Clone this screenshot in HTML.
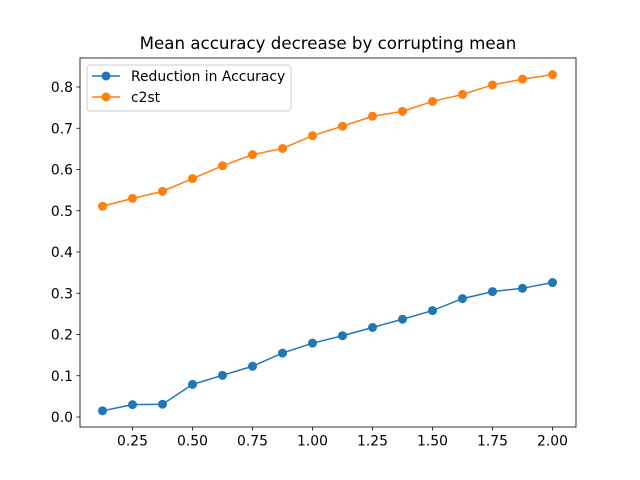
<!DOCTYPE html>
<html><head><meta charset="utf-8"><style>
body{margin:0;background:#fff;}
svg{display:block;font-family:"DejaVu Sans","Liberation Sans",sans-serif;}
</style></head><body>
<svg id="chart" width="640" height="480">
<rect width="640" height="480" fill="#fff"/>
<text x="328" y="49" text-anchor="middle" font-size="16.67">Mean accuracy decrease by corrupting mean</text>
<g id="axes"></g>
<g id="series"></g>
<rect x="80" y="58" width="496" height="369" fill="none" stroke="#000" stroke-width="0.8"/>
<g>
<rect x="87" y="65" width="204" height="46" rx="3" fill="#fff" fill-opacity="0.8" stroke="#ccc"/>
<g>
<line x1="92" y1="76" x2="120" y2="76" stroke="#1f77b4" stroke-width="1.5"/><circle cx="106" cy="76" r="4.5" fill="#1f77b4"/>
<text x="131" y="81" font-size="13.89">Reduction in Accuracy</text></g>
<g>
<line x1="92" y1="97" x2="120" y2="97" stroke="#ff7f0e" stroke-width="1.5"/><circle cx="106" cy="97" r="4.5" fill="#ff7f0e"/>
<text x="131" y="102" font-size="13.89">c2st</text></g>
</g>
</svg>
<script>
const xValues=[0.125,0.25,0.375,0.5,0.625,0.75,0.875,1.0,1.125,1.25,1.375,1.5,1.625,1.75,1.875,2.0];
const reductionValues=[0.015,0.030,0.031,0.079,0.101,0.123,0.155,0.179,0.197,0.217,0.237,0.258,0.287,0.304,0.312,0.326];
const c2stValues=[0.511,0.530,0.547,0.578,0.609,0.636,0.651,0.682,0.705,0.729,0.741,0.765,0.782,0.805,0.819,0.830];
const xTicks=[0.25,0.5,0.75,1.0,1.25,1.5,1.75,2.0];
const xTickLabels=["0.25","0.50","0.75","1.00","1.25","1.50","1.75","2.00"];
const yTicks=[0,0.1,0.2,0.3,0.4,0.5,0.6,0.7,0.8];
const yTickLabels=["0.0","0.1","0.2","0.3","0.4","0.5","0.6","0.7","0.8"];
const NS="http://www.w3.org/2000/svg";
function sx(v){return 80+(v-0.03125)*240;}
function sy(v){return 417-v*412.5;}
function mk(t,a,p){const e=document.createElementNS(NS,t);for(const k in a)e.setAttribute(k,a[k]);p.appendChild(e);return e;}
const ax=document.getElementById('axes');
xTicks.forEach((v,i)=>{
 const l=mk('line',{x1:sx(v),x2:sx(v),y1:427,y2:430.5,stroke:'#000','stroke-width':0.8},ax);
 
 
 const t=mk('text',{x:sx(v),y:445.5,'text-anchor':'middle','font-size':13.89},ax);
 t.textContent=xTickLabels[i];
 
 
});
yTicks.forEach((v,i)=>{
 const l=mk('line',{x1:76.5,x2:80,y1:sy(v),y2:sy(v),stroke:'#000','stroke-width':0.8},ax);
 
 
 const t=mk('text',{x:73,y:sy(v)+5,'text-anchor':'end','font-size':13.89},ax);
 t.textContent=yTickLabels[i];
 
 
});
const sg=document.getElementById('series');
function drawSeries(vals,color,name){
 const g=mk('g',{},sg);
 
 
 const pl=mk('polyline',{points:vals.map((v,i)=>sx(xValues[i])+','+sy(v)).join(' '),fill:'none',stroke:color,'stroke-width':1.5},g);
 
 
 vals.forEach((v,i)=>{
  const c=mk('circle',{cx:sx(xValues[i]),cy:sy(v),r:4.5,fill:color},g);
  
  
 });
}
drawSeries(reductionValues,'#1f77b4','reduction-series');
drawSeries(c2stValues,'#ff7f0e','c2st-series');
</script>
</body></html>
